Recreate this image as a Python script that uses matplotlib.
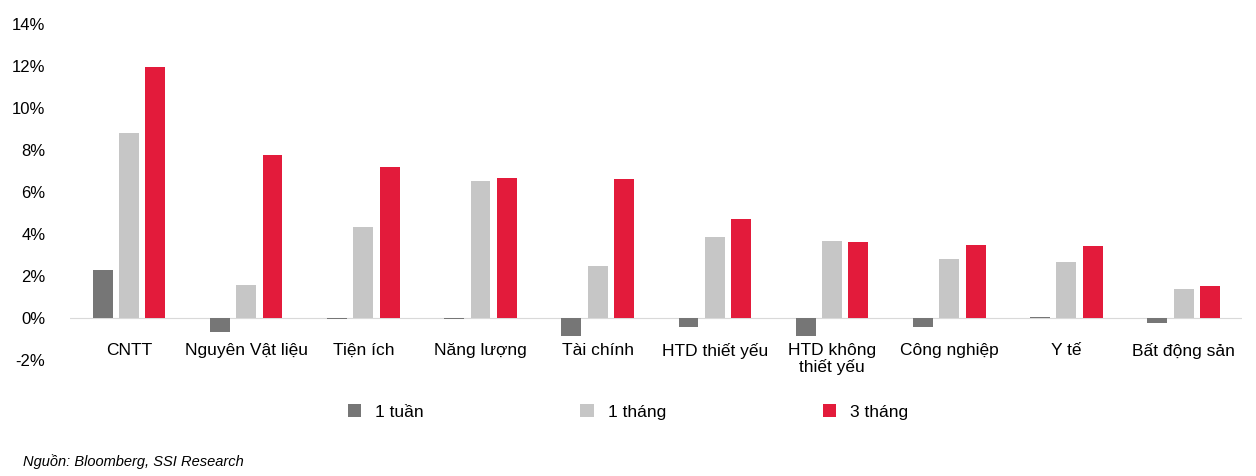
import matplotlib.pyplot as plt
import numpy as np
from matplotlib.transforms import blended_transform_factory

categories = ["CNTT", "Nguyên Vật liệu", "Tiện ích", "Năng lượng", "Tài chính",
              "HTD thiết yếu", "HTD không\nthiết yếu", "Công nghiệp", "Y tế", "Bất động sản"]
week1 = [2.29, -0.67, -0.05, -0.05, -0.86, -0.43, -0.86, -0.43, 0.03, -0.24]
month1 = [8.8, 1.57, 4.33, 6.52, 2.48, 3.86, 3.67, 2.81, 2.67, 1.38]
month3 = [11.95, 7.76, 7.19, 6.67, 6.62, 4.71, 3.62, 3.48, 3.43, 1.52]
series_names = ["1 tuần", "1 tháng", "3 tháng"]
yticks = [-2, 0, 2, 4, 6, 8, 10, 12, 14]

plt.rcParams['font.family'] = ['Liberation Sans', 'DejaVu Sans']
fig = plt.figure(figsize=(12.56, 4.76), dpi=100)
ax = fig.add_axes([0.056, 0.244, 0.933, 0.706])
x = np.arange(len(categories))
w = 0.17
off = 0.225
colors = ["#767676", "#c6c6c6", "#e31b3b"]
for i, (vals, c, n) in enumerate(zip([week1, month1, month3], colors, series_names)):
    ax.bar(x + (i - 1) * off, vals, w, color=c, label=n)
ax.set_xlim(-0.5, len(categories) - 0.5)
ax.set_ylim(-2, 14)
ax.set_yticks(yticks)
ax.set_yticklabels([f"{t}%" for t in yticks], fontsize=12)
ax.tick_params(axis='y', length=0, pad=18)
ax.set_xticks([])
for s in ax.spines.values():
    s.set_visible(False)
ax.axhline(0, color="#d9d9d9", lw=0.8, zorder=0)
tr = blended_transform_factory(ax.transData, ax.transData)
for xi, lab in zip(x, categories):
    ax.text(xi, -1.2, lab, transform=tr, ha='center', va='top', fontsize=12.5, linespacing=1.1)
fig.legend(loc='center', bbox_to_anchor=(0.5, 0.135), ncol=3, frameon=False,
           fontsize=12.5, columnspacing=9, handlelength=0.8, handleheight=0.8)
fig.text(0.018, 0.022, "Nguồn: Bloomberg, SSI Research", fontsize=10.5, style='italic')
fig.savefig("out.png")
